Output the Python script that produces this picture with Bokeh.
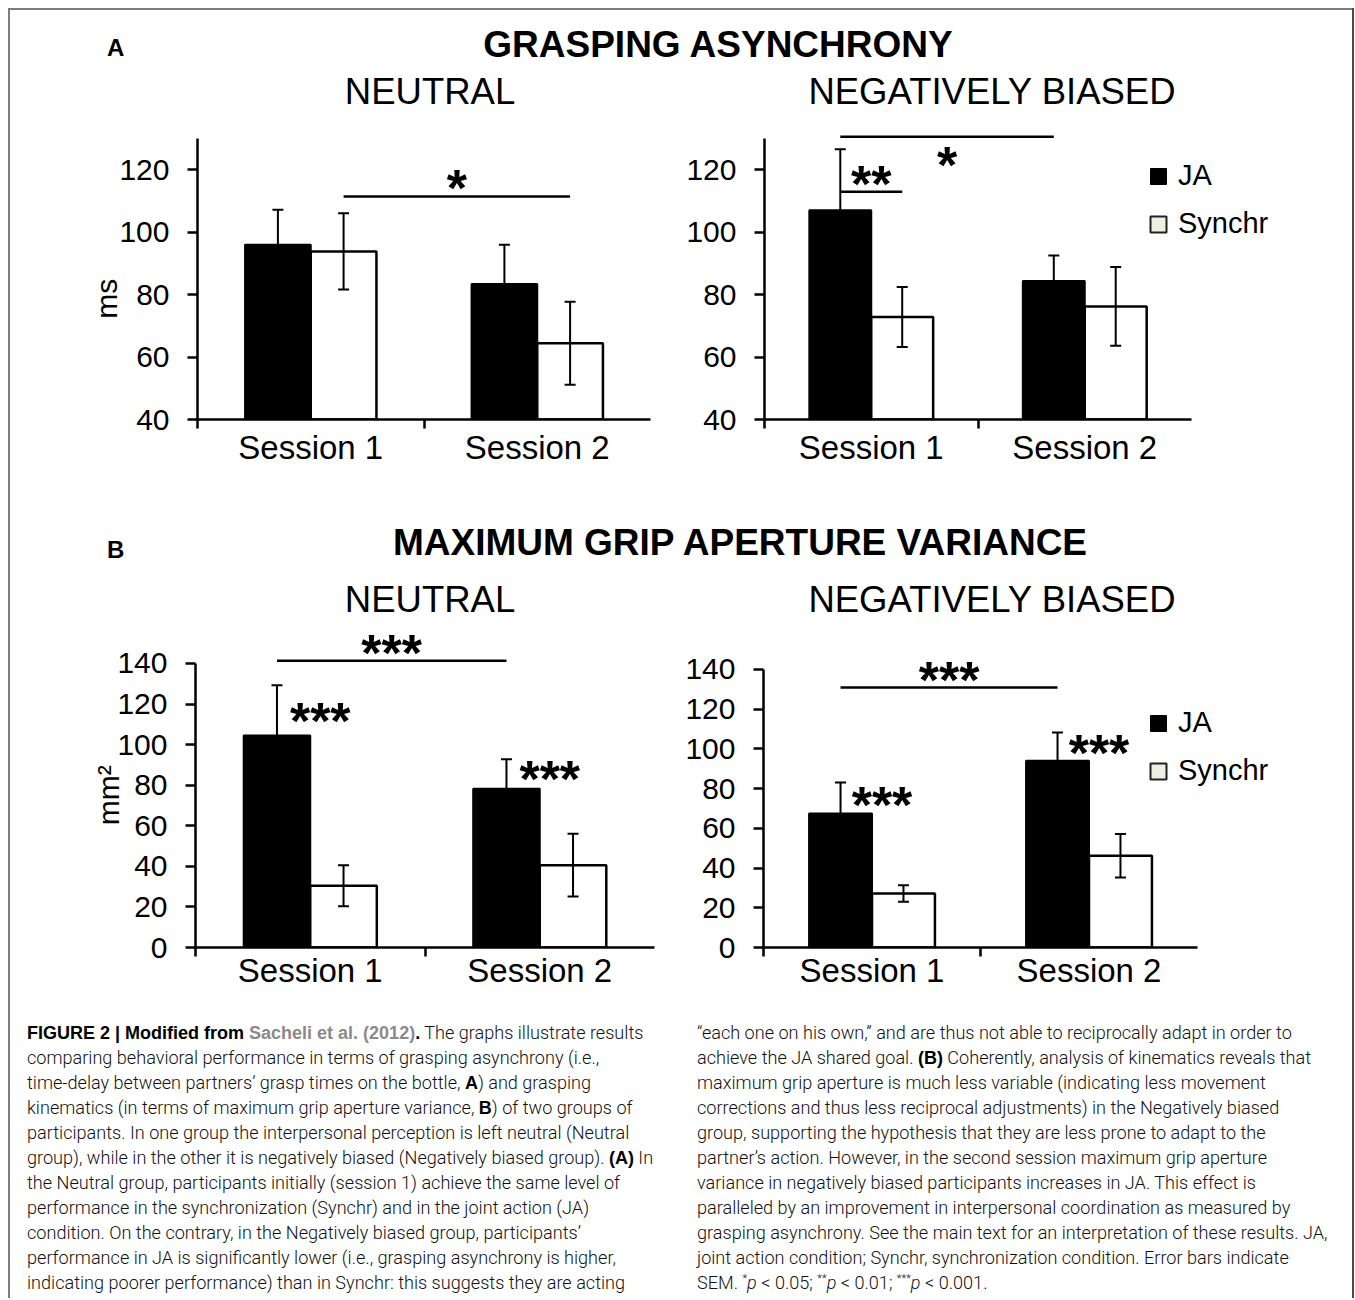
from bokeh.plotting import figure
from bokeh.models import (ColumnDataSource, Whisker, TeeHead, FixedTicker, Legend,
                          LegendItem, Div, Range1d, Spacer)
from bokeh.layouts import row, column
from bokeh.embed import file_html
from bokeh.resources import INLINE
from bokeh.core.properties import value

# ---------------- data ----------------
sessions = ["Session 1", "Session 2"]
conditions = ["JA", "Synchr"]

# A: grasping asynchrony (ms)
asyn_neutral_ja = [95.9, 83.4]
asyn_neutral_ja_sem = [11.2, 12.5]
asyn_neutral_sy = [93.8, 64.4]
asyn_neutral_sy_sem = [12.2, 13.3]

asyn_neg_ja = [107.0, 84.3]
asyn_neg_ja_sem = [19.5, 8.2]
asyn_neg_sy = [72.8, 76.2]
asyn_neg_sy_sem = [9.6, 12.6]

# B: maximum grip aperture variance (mm2)
mga_neutral_ja = [104.5, 78.2]
mga_neutral_ja_sem = [24.8, 14.6]
mga_neutral_sy = [30.4, 40.6]
mga_neutral_sy_sem = [10.1, 15.5]

mga_neg_ja = [67.5, 94.0]
mga_neg_ja_sem = [15.6, 14.3]
mga_neg_sy = [27.2, 46.2]
mga_neg_sy_sem = [4.2, 10.9]

ticks_a = [40, 60, 80, 100, 120]
ticks_b = [0, 20, 40, 60, 80, 100, 120, 140]

# significance brackets: (session from, condition from, session to, condition to, height, label)
sig_asyn_neutral = [(0, "Synchr", 1, "Synchr", 111.4, "*")]
sig_asyn_neg = [(0, "JA", 0, "Synchr", 112.9, "**"), (0, "JA", 1, "JA", 130.5, "*")]
sig_mga_neutral = [(0, "JA", 1, "JA", 141.3, "***")]
sig_mga_neg = [(0, "JA", 1, "JA", 130.9, "***")]
# JA vs Synchr stars beside the JA bars: (session, height, label)
star_mga_neutral = [(0, 115.8, "***"), (1, 87.1, "***")]
star_mga_neg = [(0, 75.9, "***"), (1, 101.9, "***")]

# ---------------- styling / geometry (page pixels) ----------------
FONT = "Liberation Sans"
BAR_W = 0.29
STAR_SIZE = 52
STAR_RISE = 8   # px between text baseline and visual centre of the asterisks
NB = "\u00a0"   # trailing no-break spaces shift the rotated axis label downwards

GEOM = {
    "A_left": dict(fig_x=10, fig_y=112, fig_w=660, fig_h=363, left=197, right=650,
                   bottom=419, top=119, ppx=226.5, ppy=3.125, xstand=0,
                   lab_stand=-7, lab_pad=7),
    "A_right": dict(fig_x=670, fig_y=112, fig_w=682, fig_h=363, left=764, right=1308,
                    bottom=419, top=119, ppx=213.5, ppy=3.125, xstand=0,
                    lab_stand=0, lab_pad=0),
    "B_left": dict(fig_x=10, fig_y=622, fig_w=660, fig_h=378, left=195, right=654,
                   bottom=947, top=626, ppx=229.5, ppy=2.0286, xstand=-5,
                   lab_stand=-11, lab_pad=2),
    "B_right": dict(fig_x=670, fig_y=622, fig_w=682, fig_h=378, left=763, right=1316,
                    bottom=947, top=626, ppx=217.0, ppy=1.986, xstand=-5,
                    lab_stand=0, lab_pad=0),
}


def xpos(session, cond):
    return session + 0.5 + (-BAR_W / 2 if cond == "JA" else BAR_W / 2)


def panel(g, ja, ja_sem, sy, sy_sem, yticks, ylabel, brackets, stars,
          bracket_side=None, legend_center=None):
    y0 = yticks[0]
    frame_w = g["right"] - g["left"]
    frame_h = g["bottom"] - g["top"]
    x_end = frame_w / g["ppx"]
    y_end = y0 + frame_h / g["ppy"]
    p = figure(frame_width=frame_w, frame_height=frame_h,
               x_range=Range1d(0, x_end), y_range=Range1d(y0, y_end),
               min_border_left=g["left"] - g["fig_x"],
               min_border_right=g["fig_x"] + g["fig_w"] - g["right"],
               min_border_top=g["top"] - g["fig_y"],
               min_border_bottom=g["fig_y"] + g["fig_h"] - g["bottom"],
               output_backend="svg", toolbar_location=None)
    p.outline_line_color = None
    p.xgrid.visible = False
    p.ygrid.visible = False
    p.background_fill_color = "white"
    p.border_fill_color = "white"

    xa = p.xaxis[0]
    xa.ticker = FixedTicker(ticks=[0.5, 1.5], minor_ticks=[0, 1])
    xa.major_label_overrides = {0.5: sessions[0], 1.5: sessions[1]}
    xa.bounds = (0, 2)
    xa.axis_line_width = 2.5
    xa.axis_line_color = "black"
    xa.major_tick_out = 0
    xa.major_tick_in = 0
    xa.minor_tick_out = 9
    xa.minor_tick_in = 0
    xa.minor_tick_line_width = 2.5
    xa.minor_tick_line_color = "black"
    xa.major_label_text_font = FONT
    xa.major_label_text_font_size = "33px"
    xa.major_label_text_color = "black"
    xa.major_label_standoff = g["xstand"]

    ya = p.yaxis[0]
    ya.ticker = FixedTicker(ticks=yticks, minor_ticks=[])
    ya.bounds = (y0, yticks[-1] + (10 if y0 == 40 else 0))
    ya.axis_line_width = 2.5
    ya.axis_line_color = "black"
    ya.major_tick_out = 10
    ya.major_tick_in = 0
    ya.major_tick_line_width = 2.5
    ya.major_tick_line_color = "black"
    ya.minor_tick_out = 0
    ya.minor_tick_in = 0
    ya.major_label_text_font = FONT
    ya.major_label_text_font_size = "30px"
    ya.major_label_text_color = "black"
    ya.major_label_standoff = 18
    if ylabel:
        ya.axis_label = ylabel + NB * g["lab_pad"]
        ya.axis_label_text_font = FONT
        ya.axis_label_text_font_size = "30px"
        ya.axis_label_text_font_style = "normal"
        ya.axis_label_text_color = "black"
        ya.axis_label_standoff = g["lab_stand"]

    src_ja = ColumnDataSource(dict(
        x=[xpos(i, "JA") for i in range(2)], top=ja,
        upper=[v + e for v, e in zip(ja, ja_sem)],
        lower=[v - e for v, e in zip(ja, ja_sem)]))
    src_sy = ColumnDataSource(dict(
        x=[xpos(i, "Synchr") for i in range(2)], top=sy,
        upper=[v + e for v, e in zip(sy, sy_sem)],
        lower=[v - e for v, e in zip(sy, sy_sem)]))

    p.vbar(x="x", top="top", bottom=y0, width=BAR_W, source=src_ja,
           fill_color="black", line_color="black", line_width=2)
    p.vbar(x="x", top="top", bottom=y0, width=BAR_W, source=src_sy,
           fill_color="white", line_color="black", line_width=2.5)

    for src in (src_ja, src_sy):
        w = Whisker(source=src, base="x", upper="upper", lower="lower",
                    dimension="height", line_color="black", line_width=2,
                    upper_head=TeeHead(size=11, line_color="black", line_width=2),
                    lower_head=TeeHead(size=11, line_color="black", line_width=2),
                    level="overlay")
        p.add_layout(w)

    # significance brackets
    sides = bracket_side or ["above"] * len(brackets)
    bx0, bx1, by, lx_, ly_, lt, loff = [], [], [], [], [], [], []
    for (s0, c0, s1, c1, h, lab), side in zip(brackets, sides):
        a, b = xpos(s0, c0), xpos(s1, c1)
        bx0.append(a); bx1.append(b); by.append(h)
        lx_.append((a + b) / 2); ly_.append(h); lt.append(lab)
        d = 16 if side == "above" else -20
        loff.append(STAR_RISE - d)
    p.segment(x0=bx0, y0=by, x1=bx1, y1=by, line_color="black", line_width=2.5)
    p.text(x=lx_, y=ly_, text=lt, y_offset=loff, text_align="center",
           text_baseline="alphabetic", text_font=value(FONT), text_font_style="bold",
           text_font_size=f"{STAR_SIZE}px", text_color="black")

    if stars:
        p.text(x=[s + 0.5 for s, _, _ in stars], y=[h for _, h, _ in stars],
               text=[t for _, _, t in stars], x_offset=10,
               y_offset=STAR_RISE, text_align="center",
               text_baseline="alphabetic", text_font=value(FONT),
               text_font_style="bold", text_font_size=f"{STAR_SIZE}px",
               text_color="black")

    if legend_center:
        # legend swatches only (placed outside the visible ranges)
        r_ja = p.scatter(x=[-5], y=[y0 - 50], marker="square", size=16,
                         fill_color="black", line_color="black", line_width=1)
        r_sy = p.scatter(x=[-5], y=[y0 - 50], marker="square", size=16,
                         fill_color="#eeeee2", line_color="#222222", line_width=2)
        cx, cy = legend_center
        leg_h = 40 * 2 + 8
        leg = Legend(items=[LegendItem(label=conditions[0], renderers=[r_ja]),
                            LegendItem(label=conditions[1], renderers=[r_sy])],
                     location=(cx - 20 - g["left"], g["bottom"] - (cy - 20 + leg_h)),
                     glyph_width=40, glyph_height=40, label_standoff=-4,
                     spacing=8, padding=0, margin=0,
                     border_line_alpha=0, background_fill_alpha=0,
                     label_text_font=FONT, label_text_font_size="29px",
                     label_text_color="black")
        p.add_layout(leg)
    return p


pA1 = panel(GEOM["A_left"], asyn_neutral_ja, asyn_neutral_ja_sem, asyn_neutral_sy,
            asyn_neutral_sy_sem, ticks_a, "ms", sig_asyn_neutral, [])
pA2 = panel(GEOM["A_right"], asyn_neg_ja, asyn_neg_ja_sem, asyn_neg_sy,
            asyn_neg_sy_sem, ticks_a, None, sig_asyn_neg, [],
            bracket_side=["above", "below"], legend_center=(1158, 175.5))
pB1 = panel(GEOM["B_left"], mga_neutral_ja, mga_neutral_ja_sem, mga_neutral_sy,
            mga_neutral_sy_sem, ticks_b, "mm²", sig_mga_neutral, star_mga_neutral)
pB2 = panel(GEOM["B_right"], mga_neg_ja, mga_neg_ja_sem, mga_neg_sy,
            mga_neg_sy_sem, ticks_b, None, sig_mga_neg, star_mga_neg,
            legend_center=(1158, 722.5))

# ---------------- headings ----------------
HF = "font-family:'Liberation Sans',Arial,sans-serif;line-height:1;white-space:nowrap;color:#000;"


def txt(s, top, size, bold=False, left=None, center=None, width=900):
    if center is not None:
        left = center - width / 2
        al = "center"
    else:
        al = "left"
    fw = 700 if bold else 400
    return (f'<div style="position:absolute;left:{left}px;top:{top}px;width:{width}px;'
            f'text-align:{al};font-size:{size}px;font-weight:{fw};{HF}">{s}</div>')


def box(inner, w, h):
    return f'<div style="position:relative;width:{w}px;height:{h}px;">{inner}</div>'


W = 1342
headA = Div(width=W, height=102, margin=0, text=box(
    txt("A", 26, 24, True, left=97) +
    txt("GRASPING ASYNCHRONY", 16, 37, True, center=708) +
    txt("NEUTRAL", 64, 36.5, center=420) +
    txt("NEGATIVELY BIASED", 64, 36.5, center=982), W, 102))

headB = Div(width=W, height=147, margin=0, text=box(
    txt("B", 63, 24, True, left=97) +
    txt("MAXIMUM GRIP APERTURE VARIANCE", 49, 37, True, center=730) +
    txt("NEUTRAL", 107, 36.5, center=420) +
    txt("NEGATIVELY BIASED", 107, 36.5, center=982), W, 147))

# ---------------- caption ----------------
CF = ("font-family:Roboto,'Liberation Sans',sans-serif;font-weight:300;font-size:18.1px;"
      "line-height:25px;white-space:nowrap;color:#111;")
BF = ("font-family:'Liberation Sans',Arial,sans-serif;font-weight:700;font-size:18px;"
      "line-height:1;")
B_ = lambda s: f'<b style="{BF}color:#000;">{s}</b>'
SUP = lambda s: f'<span style="font-size:11px;vertical-align:7px;line-height:0;">{s}</span>'

left_lines = [
    B_("FIGURE 2 | Modified from ") + f'<b style="{BF}color:#8a8a8a;">Sacheli et al. (2012)</b>'
    + B_(".") + " The graphs illustrate results",
    "comparing behavioral performance in terms of grasping asynchrony (i.e.,",
    "time-delay between partners’ grasp times on the bottle, " + B_("A") + ") and grasping",
    "kinematics (in terms of maximum grip aperture variance, " + B_("B") + ") of two groups of",
    "participants. In one group the interpersonal perception is left neutral (Neutral",
    "group), while in the other it is negatively biased (Negatively biased group). " + B_("(A)") + " In",
    "the Neutral group, participants initially (session 1) achieve the same level of",
    "performance in the synchronization (Synchr) and in the joint action (JA)",
    "condition. On the contrary, in the Negatively biased group, participants’",
    "performance in JA is significantly lower (i.e., grasping asynchrony is higher,",
    "indicating poorer performance) than in Synchr: this suggests they are acting",
]
right_lines = [
    "“each one on his own,” and are thus not able to reciprocally adapt in order to",
    "achieve the JA shared goal. " + B_("(B)") + " Coherently, analysis of kinematics reveals that",
    "maximum grip aperture is much less variable (indicating less movement",
    "corrections and thus less reciprocal adjustments) in the Negatively biased",
    "group, supporting the hypothesis that they are less prone to adapt to the",
    "partner’s action. However, in the second session maximum grip aperture",
    "variance in negatively biased participants increases in JA. This effect is",
    "paralleled by an improvement in interpersonal coordination as measured by",
    "grasping asynchrony. See the main text for an interpretation of these results. JA,",
    "joint action condition; Synchr, synchronization condition. Error bars indicate",
    "SEM. " + SUP("*") + "<i>p</i> &lt; 0.05; " + SUP("**") + "<i>p</i> &lt; 0.01; "
    + SUP("***") + "<i>p</i> &lt; 0.001.",
]
CAP_H = 298
cap_html = box(
    f'<div style="position:absolute;left:17px;top:20px;{CF}">' + "<br>".join(left_lines) + "</div>"
    + f'<div style="position:absolute;left:687px;top:20px;{CF}">' + "<br>".join(right_lines) + "</div>",
    W, CAP_H)
caption = Div(width=W, height=CAP_H, margin=0, text=cap_html)

# ---------------- frame lines & layout ----------------
TOTAL_H = 2 + 102 + 363 + 147 + 378 + CAP_H
top_bar = Div(width=W, height=2, margin=0, styles={"background-color": "#7d7d7d"})
left_bar = Div(width=2, height=TOTAL_H, margin=0, styles={"background-color": "#7d7d7d"})
right_bar = Div(width=2, height=TOTAL_H, margin=0, styles={"background-color": "#4a4a4a"})

content = column(top_bar, headA, row(pA1, pA2), headB, row(pB1, pB2), caption)
framed = row(left_bar, content, right_bar)
layout = column(Spacer(width=1, height=8, margin=0),
                row(Spacer(width=8, height=1, margin=0), framed))

open("out.html", "w").write(file_html(layout, INLINE, title="Figure 2"))
